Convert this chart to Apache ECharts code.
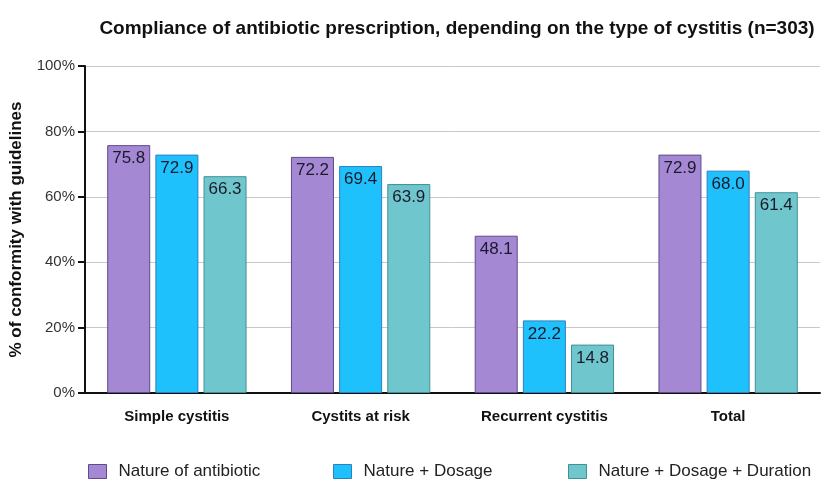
<!DOCTYPE html>
<html><head><meta charset="utf-8">
<script src="https://cdn.jsdelivr.net/npm/echarts@6/dist/echarts.min.js"></script>
<style>html,body{margin:0;padding:0;background:#fff}#c{width:822px;height:480px}</style>
</head><body><div id="c"></div>
<script>
const categories = ['Simple cystitis', 'Cystits at risk', 'Recurrent cystitis', 'Total'];
const seriesNames = ['Nature of antibiotic', 'Nature + Dosage', 'Nature + Dosage + Duration'];
const natureOfAntibiotic = [75.8, 72.2, 48.1, 72.9];
const natureDosage = [72.9, 69.4, 22.2, 68.0];
const natureDosageDuration = [66.3, 63.9, 14.8, 61.4];
const yTicks = [0, 20, 40, 60, 80, 100];

const fills = ['#A488D4', '#1FC1FD', '#6FC7CD'];
const borders = ['#5F4B8C', '#2E7FBF', '#3F9198'];
const values = [natureOfAntibiotic, natureDosage, natureDosageDuration];
const font = 'Liberation Sans, Arial, sans-serif';

const chart = echarts.init(document.getElementById('c'));
const legendLefts = [83, 328, 563];
chart.setOption({
  animation: false,
  title: {
    text: 'Compliance of antibiotic prescription, depending on the type of cystitis (n=303)',
    left: 452, top: 14, textAlign: 'center',
    textStyle: { fontFamily: font, fontWeight: 'bold', fontSize: 19, color: '#111' }
  },
  legend: seriesNames.map((n, i) => ({
    data: [n], left: legendLefts[i], top: 458, icon: 'rect',
    itemWidth: 18, itemHeight: 14, itemGap: 10,
    itemStyle: { borderWidth: 1 },
    textStyle: { fontFamily: font, fontSize: 17, color: '#222', padding: [0, 0, 0, 7] }
  })),
  grid: { left: 81, right: 2, top: 66, bottom: 87, containLabel: false },
  xAxis: {
    type: 'category', data: categories,
    axisLine: { lineStyle: { color: '#111', width: 2 } },
    axisTick: { alignWithLabel: true, length: 7, lineStyle: { color: '#111', width: 2 } },
    axisLabel: { fontFamily: font, fontWeight: 'bold', fontSize: 15, color: '#111', margin: 16 }
  },
  yAxis: {
    type: 'value', min: 0, max: 100, interval: 20,
    name: '% of conformity with guidelines', nameLocation: 'middle', nameGap: 60,
    nameTextStyle: { fontFamily: font, fontWeight: 'bold', fontSize: 17, color: '#111' },
    axisLine: { show: true, lineStyle: { color: '#111', width: 2 } },
    axisTick: { show: true, length: 7, lineStyle: { color: '#111', width: 2 } },
    axisLabel: { fontFamily: font, fontSize: 15, color: '#333', margin: 10,
      formatter: v => yTicks.includes(v) ? v + '%' : '' },
    splitLine: { show: true, lineStyle: { color: '#c8c8c8', width: 1 } }
  },
  series: seriesNames.map((n, i) => ({
    name: n, type: 'bar', data: values[i],
    barWidth: 43, barGap: '12%', barCategoryGap: '26%',
    itemStyle: { color: fills[i], borderColor: borders[i], borderWidth: 1 },
    label: { show: true, position: 'insideTop', distance: 5,
      fontFamily: font, fontSize: 17, color: '#1a1a2a',
      formatter: p => p.value.toFixed(1) }
  }))
});
</script></body></html>
